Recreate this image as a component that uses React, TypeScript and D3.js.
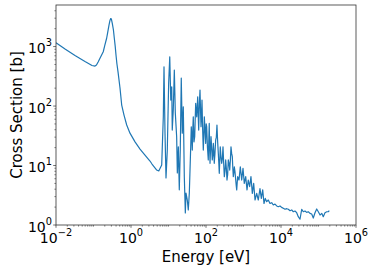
import React from 'react';
import * as d3 from 'd3';

// energies [eV] and cross sections [b]
const energy = [
  0.01, 0.0174, 0.0321, 0.0593, 0.0912, 0.1096, 0.12, 0.134, 0.15, 0.182,
  0.2, 0.224, 0.24, 0.259, 0.273, 0.287, 0.3, 0.317, 0.34, 0.359,
  0.38, 0.398, 0.42, 0.45, 0.509, 0.565, 0.651, 0.768, 0.94, 1.28,
  1.74, 2.36, 3.21, 3.63, 4.85, 5.5, 6.59, 7.27, 7.59, 8.07,
  8.58, 9.29, 10.1, 10.8, 11.5, 12.2, 12.6, 13.4, 14.3, 15.2,
  16.5, 17.2, 18.3, 19.4, 20.6, 21.9, 23.3, 24.8, 26.4, 28.1,
  29.3, 31.7, 33.7, 35.9, 39.1, 40.5, 41.8, 43.1, 44.4, 45.8,
  47.8, 50, 51.5, 53.1, 54.8, 56.5, 58.3, 60.1, 62, 63.9,
  66.5, 69.2, 71.3, 73.6, 75.9, 78.2, 81.4, 84.7, 87.4, 90.2,
  94.1, 98.2, 101.2, 104.4, 109.5, 115, 118.5, 122, 125, 128,
  132, 136, 141.5, 147, 152, 157, 161.5, 166, 173.5, 181,
  188.5, 196, 204.5, 213, 219.5, 226, 233, 240, 251, 262,
  273, 284, 296, 308, 321, 335, 349, 363, 378, 393,
  411, 429, 446, 464, 483, 503, 519, 535, 552, 569,
  594, 620, 640, 659, 680, 700, 759, 822, 896, 970,
  1050, 1145, 1240, 1340, 1460, 1580, 1720, 1870, 2030, 2250,
  2480, 2750, 2990, 3250, 3520, 3810, 4160, 4590, 5090, 5650,
  6230, 6920, 7680, 8470, 9400, 10400, 11500, 12800, 14200, 15700,
  17400, 19300, 21300, 23600, 26200, 28900, 32100, 35700, 39300, 43700,
  48400, 53500, 59300, 65900, 72600, 80700, 89500, 98900, 110000, 122000,
  134000, 149000, 166000, 182000, 194000,
];
const crossSection = [
  1160, 908, 706, 560, 480, 470, 490, 555, 640, 818,
  1050, 1380, 1750, 2290, 2700, 2960, 2900, 2450, 1900, 1380,
  1000, 720, 520, 378, 201, 104, 70.6, 48, 35, 25,
  18.9, 15, 11.9, 10.6, 8.4, 8.1, 10.2, 66, 458, 35,
  6.2, 18.2, 244, 674, 126, 211, 39.5, 86, 403, 76,
  30.5, 7.5, 20.7, 3.9, 18.2, 296, 35, 97, 6.5, 1.6,
  3.45, 2.63, 1.79, 3.45, 20.5, 44.9, 30, 18.2, 40, 66,
  25, 30.5, 60, 111, 80, 66, 100, 143, 70, 39.5,
  110, 186, 90, 44.9, 70, 126, 40, 18.2, 30, 66,
  40, 23.6, 50, 44.9, 20, 12.4, 25, 51, 22, 10.9,
  18, 30.5, 20, 12.4, 15, 23.6, 18, 10.9, 16, 26.8,
  30, 48, 25, 16, 11, 7.4, 12, 20.7, 14, 10.9,
  13, 20.7, 11, 6.5, 8, 12.4, 9, 5.7, 7, 12.4,
  11, 8.4, 12, 20.7, 16, 14.1, 9, 6.5, 7.5, 9.5,
  7.8, 5.7, 4.6, 3.9, 5.2, 6.5, 5.7, 9.5, 5.7, 9,
  5, 6.5, 3.9, 5.7, 4.4, 6.5, 3.4, 5, 2.63, 3.4,
  2.63, 4.1, 2.8, 3.9, 2.3, 2.8, 2.47, 2.63, 2.3, 2.37,
  2.17, 2.25, 2.09, 2.03, 2.09, 1.98, 1.91, 1.84, 1.88, 1.84,
  1.74, 1.79, 1.67, 1.72, 1.61, 1.38, 1.25, 1.84, 1.67, 1.72,
  1.63, 1.67, 1.57, 1.53, 1.31, 1.61, 1.86, 1.67, 1.47, 1.57,
  1.38, 1.61, 1.67, 1.67, 1.74,
];

const xTickValues = [1e-2, 1e0, 1e2, 1e4, 1e6];
const xTickExps = ['\u22122', '0', '2', '4', '6'];
const yTickValues = [1e0, 1e1, 1e2, 1e3];
const yTickExps = ['0', '1', '2', '3'];

const width = 374;
const height = 272;
const margin = {top: 5, right: 18, bottom: 47, left: 56};

function App() {
  const x = d3.scaleLog().domain([1e-2, 1e6]).range([margin.left, width - margin.right]);
  const y = d3.scaleLog().domain([1, 5000]).range([height - margin.bottom, margin.top]);

  const line = d3.line<number>()
    .x((d) => x(energy[d]))
    .y((d) => y(crossSection[d]));

  const isDecade = (v: number) => Math.abs(Math.log10(v) - Math.round(Math.log10(v))) < 1e-6;
  // every decade in between labelled ones gets a small tick too
  const minorX = x.ticks(80).filter((v) => !isDecade(v) || Math.round(Math.log10(v)) % 2 !== 0);
  const minorY = y.ticks(40).filter((v) => !isDecade(v));

  const x0 = margin.left;
  const x1 = width - margin.right;
  const y0 = height - margin.bottom;
  const y1 = margin.top;
  const axisColor = '#333';
  const font = 'DejaVu Sans, sans-serif';

  return (
    <svg width={width} height={height} style={{position: 'absolute', left: 0, top: 0, background: '#fff'}}>
      <defs>
        <clipPath id="plot-clip">
          <rect x={x0} y={y1} width={x1 - x0} height={y0 - y1}/>
        </clipPath>
      </defs>

      <path
        d={line(energy.map((_, i) => i)) || ''}
        fill="none"
        stroke="#1f77b4"
        strokeWidth={1.2}
        strokeLinejoin="round"
        clipPath="url(#plot-clip)"
      />

      {/* minor ticks */}
      {minorX.filter((v) => v > 1e-2 && v < 1e6).map((v, i) => (
        <line key={'mx' + i} x1={x(v)} x2={x(v)} y1={y0} y2={y0 + 1.6} stroke={axisColor} strokeWidth={0.6}/>
      ))}
      {minorY.filter((v) => v > 1 && v < 5000).map((v, i) => (
        <line key={'my' + i} x1={x0} x2={x0 - 1.6} y1={y(v)} y2={y(v)} stroke={axisColor} strokeWidth={0.6}/>
      ))}

      {/* major ticks + labels */}
      {xTickValues.map((v, i) => (
        <g key={'xt' + i}>
          <line x1={x(v)} x2={x(v)} y1={y0} y2={y0 + 2.8} stroke={axisColor} strokeWidth={0.7}/>
          <text x={x(v)} y={y0 + 18} textAnchor="middle" fontFamily={font} fontSize={14} fill="#000">
            10<tspan dy={-7} fontSize={9.8}>{xTickExps[i]}</tspan>
          </text>
        </g>
      ))}
      {yTickValues.map((v, i) => (
        <g key={'yt' + i}>
          <line x1={x0} x2={x0 - 2.8} y1={y(v)} y2={y(v)} stroke={axisColor} strokeWidth={0.7}/>
          <text x={x0 - 4} y={y(v) + 6.5} textAnchor="end" fontFamily={font} fontSize={14} fill="#000">
            10<tspan dy={-7} fontSize={9.8}>{yTickExps[i]}</tspan>
          </text>
        </g>
      ))}

      {/* spines */}
      <rect x={x0} y={y1} width={x1 - x0} height={y0 - y1} fill="none" stroke={axisColor} strokeWidth={0.8}/>

      <text x={(x0 + x1) / 2} y={261.5} textAnchor="middle" fontFamily={font} fontSize={15} fill="#000">Energy [eV]</text>
      <text
        transform={`translate(21.5, ${(y0 + y1) / 2}) rotate(-90)`}
        textAnchor="middle"
        fontFamily={font}
        fontSize={15}
        fill="#000"
      >Cross Section [b]</text>
    </svg>
  );
}

export default App;
